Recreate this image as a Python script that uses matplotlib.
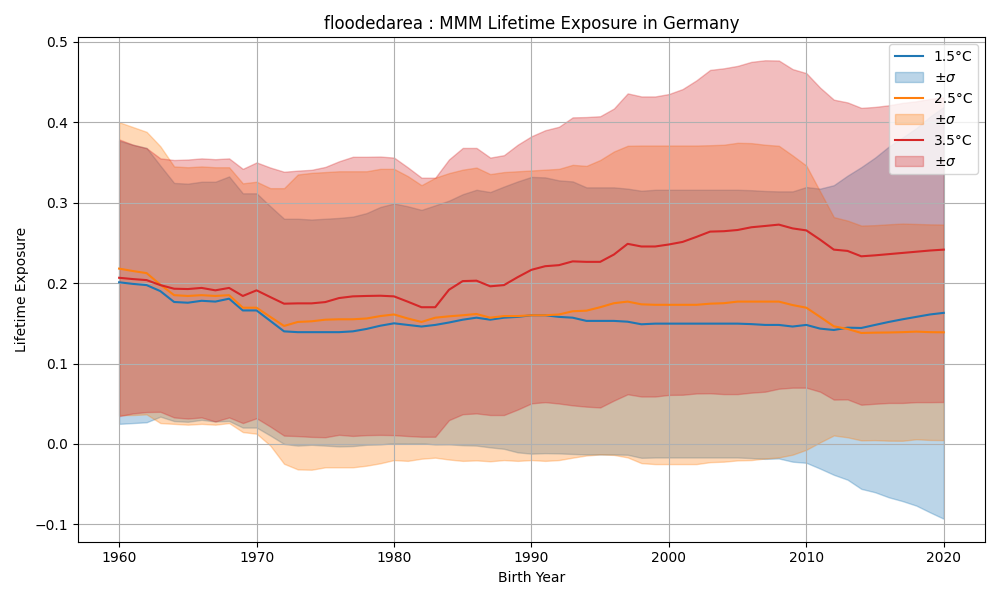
import numpy as np
import matplotlib
matplotlib.use('Agg')
import matplotlib.pyplot as plt

years = np.arange(1960, 2021)

labels = ['1.5°C', '2.5°C', '3.5°C']
colors = ['tab:blue', 'tab:orange', 'tab:red']

mean_15 = [0.201, 0.199, 0.1975, 0.190, 0.1765, 0.1756, 0.178, 0.177, 0.1806, 0.166,
           0.166, 0.153, 0.140, 0.139, 0.139, 0.139, 0.139, 0.140, 0.143, 0.147,
           0.150, 0.148, 0.146, 0.148, 0.151, 0.1545, 0.157, 0.1545, 0.157, 0.158,
           0.160, 0.160, 0.158, 0.157, 0.153, 0.153, 0.153, 0.152, 0.1488, 0.1496,
           0.1496, 0.1496, 0.1496, 0.1496, 0.1496, 0.1496, 0.149, 0.148, 0.148, 0.146,
           0.148, 0.1434, 0.1417, 0.1446, 0.1442, 0.148, 0.1517, 0.155, 0.158, 0.161, 0.163]
std_15 = [0.176, 0.173, 0.1705, 0.156, 0.148, 0.148, 0.148, 0.149, 0.152, 0.1456,
          0.1456, 0.1425, 0.140, 0.141, 0.140, 0.141, 0.142, 0.1426, 0.144, 0.1476,
          0.149, 0.1475, 0.145, 0.1487, 0.1515, 0.156, 0.159, 0.1587, 0.163, 0.1684,
          0.172, 0.1714, 0.1697, 0.1694, 0.166, 0.166, 0.166, 0.1654, 0.166, 0.1664,
          0.1664, 0.1664, 0.1664, 0.1664, 0.1664, 0.1664, 0.1665, 0.1665, 0.166, 0.168,
          0.1714, 0.174, 0.180, 0.189, 0.200, 0.208, 0.218, 0.226, 0.2346, 0.246, 0.256]

mean_25 = [0.218, 0.215, 0.2124, 0.198, 0.185, 0.184, 0.185, 0.184, 0.185, 0.1694,
           0.1694, 0.158, 0.1467, 0.1517, 0.1525, 0.1545, 0.155, 0.155, 0.156, 0.159,
           0.161, 0.156, 0.1517, 0.157, 0.1587, 0.160, 0.1616, 0.157, 0.159, 0.159,
           0.160, 0.160, 0.161, 0.165, 0.1657, 0.170, 0.175, 0.177, 0.1736, 0.173,
           0.173, 0.173, 0.173, 0.1744, 0.175, 0.177, 0.177, 0.177, 0.177, 0.1727,
           0.1694, 0.158, 0.1463, 0.143, 0.138, 0.1384, 0.1386, 0.139, 0.1397, 0.139, 0.1388]
std_25 = [0.182, 0.179, 0.1756, 0.172, 0.160, 0.160, 0.160, 0.160, 0.159, 0.1546,
          0.1566, 0.160, 0.1713, 0.1833, 0.1845, 0.1835, 0.184, 0.184, 0.183, 0.183,
          0.181, 0.177, 0.170, 0.174, 0.178, 0.181, 0.182, 0.1785, 0.179, 0.180,
          0.180, 0.181, 0.181, 0.182, 0.180, 0.183, 0.1886, 0.1937, 0.1974, 0.198,
          0.198, 0.198, 0.198, 0.197, 0.197, 0.1974, 0.197, 0.195, 0.1937, 0.186,
          0.1766, 0.156, 0.1357, 0.1347, 0.1335, 0.1336, 0.1345, 0.135, 0.1338, 0.134, 0.134]

mean_35 = [0.2066, 0.205, 0.2037, 0.1975, 0.193, 0.1926, 0.194, 0.191, 0.194, 0.184,
           0.191, 0.1826, 0.1744, 0.1748, 0.1748, 0.1764, 0.1814, 0.1835, 0.184, 0.1843,
           0.1835, 0.1769, 0.170, 0.170, 0.1917, 0.2025, 0.203, 0.196, 0.1975, 0.2074,
           0.2165, 0.221, 0.2223, 0.227, 0.2264, 0.2264, 0.2355, 0.2488, 0.2455, 0.2455,
           0.248, 0.2512, 0.2574, 0.264, 0.2645, 0.266, 0.2694, 0.271, 0.2727, 0.268,
           0.2655, 0.254, 0.2416, 0.240, 0.2333, 0.2345, 0.236, 0.2375, 0.239, 0.2405, 0.2416]
std_35 = [0.172, 0.167, 0.164, 0.1575, 0.160, 0.161, 0.161, 0.163, 0.161, 0.158,
          0.159, 0.161, 0.164, 0.165, 0.166, 0.168, 0.170, 0.1735, 0.173, 0.173,
          0.1725, 0.167, 0.161, 0.161, 0.162, 0.1655, 0.165, 0.160, 0.1615, 0.1646,
          0.166, 0.169, 0.172, 0.179, 0.180, 0.181, 0.1815, 0.187, 0.1865, 0.1865,
          0.187, 0.190, 0.1946, 0.201, 0.2025, 0.204, 0.2056, 0.206, 0.204, 0.198,
          0.1955, 0.189, 0.1864, 0.1846, 0.1845, 0.1845, 0.185, 0.1865, 0.187, 0.1885, 0.1894]

means = [mean_15, mean_25, mean_35]
stds = [std_15, std_25, std_35]

fig, ax = plt.subplots(figsize=(10, 6), dpi=100)

for lab, col, m, s in zip(labels, colors, means, stds):
    m = np.array(m)
    s = np.array(s)
    ax.plot(years, m, color=col, label=lab)
    ax.fill_between(years, m - s, m + s, color=col, alpha=0.3, label=r'$\pm \sigma$')

ax.set_title('floodedarea : MMM Lifetime Exposure in Germany')
ax.set_xlabel('Birth Year')
ax.set_ylabel('Lifetime Exposure')
ax.grid(True)
ax.legend(loc='upper right')

fig.tight_layout()
fig.savefig('out.png')
